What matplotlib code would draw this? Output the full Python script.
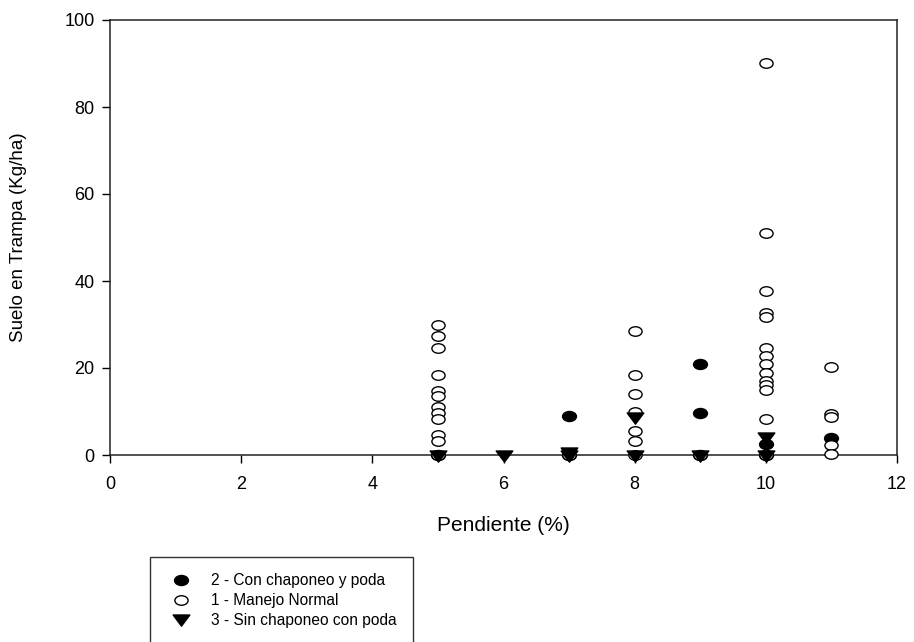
import matplotlib
matplotlib.use("Agg")
import matplotlib.pyplot as plt
from matplotlib.path import Path
from matplotlib.transforms import Affine2D

plt.rcParams["font.family"] = ["Liberation Sans", "DejaVu Sans"]

# Series 1 - Manejo Normal (open circles)
normal_x = [5] * 12 + [7] + [8] * 7 + [9] + [10] * 14 + [11] * 5
normal_y = [29.8, 27.4, 24.6, 18.4, 14.8, 13.6, 11.0, 9.6, 8.3, 4.6, 3.2, 0.0,
            0.0,
            28.5, 18.4, 14.1, 9.8, 5.6, 3.3, 0.0,
            0.0,
            90.0, 51.0, 37.8, 32.7, 31.8, 24.7, 22.8, 20.9, 18.9, 17.0, 16.2,
            14.9, 8.2, 0.0,
            20.3, 9.4, 8.8, 2.3, 0.2]

# Series 2 - Con chaponeo y poda (filled circles)
chap_x = [5, 7, 7, 9, 9, 9, 10, 10, 11]
chap_y = [0.0, 8.9, 0.0, 20.9, 9.7, 0.0, 2.5, 0.0, 4.0]

# Series 3 - Sin chaponeo con poda (triangles)
sin_x = [5, 6, 7, 7, 8, 8, 9, 10, 10]
sin_y = [0.0, 0.0, 0.7, 0.0, 8.7, 0.0, 0.0, 4.1, 0.0]

labels = ["2 - Con chaponeo y poda", "1 - Manejo Normal", "3 - Sin chaponeo con poda"]

# Slightly flattened markers, like the original software draws them.
ellipse = Path.unit_circle().transformed(Affine2D().scale(1.0, 0.72))
tri = Path([(-0.5, 0.27), (0.5, 0.27), (0.0, -0.4), (-0.5, 0.27)],
           [Path.MOVETO, Path.LINETO, Path.LINETO, Path.CLOSEPOLY])

fig = plt.figure(figsize=(9.14, 6.42), dpi=100)
ax = fig.add_axes([110 / 914, 1 - 455 / 642, (897 - 110) / 914, (455 - 20) / 642])

ax.plot(chap_x, chap_y, linestyle="none", marker=ellipse, markersize=10,
        markerfacecolor="black", markeredgecolor="black", label=labels[0],
        clip_on=False, zorder=3)
ax.plot(normal_x, normal_y, linestyle="none", marker=ellipse, markersize=9.5,
        markerfacecolor="white", markeredgecolor="black", markeredgewidth=1.0,
        label=labels[1], clip_on=False, zorder=3)
ax.plot(sin_x, sin_y, linestyle="none", marker=tri, markersize=12,
        markerfacecolor="black", markeredgecolor="black", label=labels[2],
        clip_on=False, zorder=4)

ax.set_xlim(0, 12)
ax.set_ylim(0, 100)
ax.set_xticks(range(0, 13, 2))
ax.set_yticks(range(0, 101, 20))
ax.tick_params(direction="out", length=6, width=1, labelsize=13)
ax.tick_params(axis="y", pad=5)
ax.tick_params(axis="x", pad=9)
for s in ax.spines.values():
    s.set_linewidth(1.1)
    s.set_color("#222222")

ax.set_xlabel("Pendiente (%)", fontsize=15, labelpad=17)
ax.set_ylabel("Suelo en Trampa (Kg/ha)", fontsize=13.5, labelpad=27)

fig.legend(loc="upper left", bbox_to_anchor=(150 / 914, 1 - 557 / 642),
           frameon=True, fancybox=False, edgecolor="black", fontsize=11.2,
           borderaxespad=0, handletextpad=1.0, labelspacing=0.3,
           borderpad=1.05, handlelength=1.9)

fig.savefig("out.png", dpi=100)
